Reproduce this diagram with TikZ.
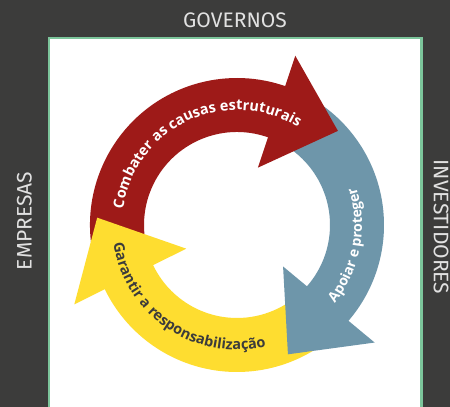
\documentclass[tikz,border=0pt]{standalone}
\usepackage{fontspec}
\setmainfont{Fira Sans}
\newfontfamily\cyclefont{Open Sans}
\usetikzlibrary{decorations.text}
\definecolor{bgdark}{RGB}{60,60,59}
\definecolor{framegreen}{RGB}{124,197,155}
\definecolor{cyclered}{RGB}{158,26,24}
\definecolor{cycleblue}{RGB}{110,150,170}
\definecolor{cycleyellow}{RGB}{254,221,48}
\definecolor{labelgray}{RGB}{225,225,225}

\begin{document}
\begin{tikzpicture}[x=1pt, y=1pt,
    sidelabel/.style={text=labelgray, font=\fontsize{21}{21}\selectfont, inner sep=0pt},
    cyclelabel/.style={decorate, decoration={text along path, text align=center, text={#1}}}]
    % background and frame
    \fill[bgdark] (0,0) rectangle (450,407);
    \useasboundingbox (0,0) rectangle (450,407);
    \draw[framegreen, line width=2.7pt, fill=white] (49,-10) rectangle (421.5,369);

    \node[sidelabel] (governos) at (235,387) {GOVERNOS};
    \node[sidelabel, rotate=90] (empresas) at (24.5,186) {EMPRESAS};
    \node[sidelabel, rotate=-90] (investidores) at (441,180) {INVESTIDORES};

    \begin{scope}[shift={(237,182)}]
        % bands
        \fill[cyclered] (195:147) arc[start angle=195, end angle=70, radius=147] -- (70:93) arc[start angle=70, end angle=195, radius=93] -- cycle;
        \fill[cycleblue] (62:147) arc[start angle=62, end angle=-42, radius=147] -- (-42:93) arc[start angle=-42, end angle=62, radius=93] -- cycle;
        \fill[cycleyellow] (310:147) arc[start angle=310, end angle=204.5, radius=147] -- (204.5:93) arc[start angle=204.5, end angle=310, radius=93] -- cycle;
        % heads
        \fill[cyclered] (71:179) -- (43:138) -- (70:61) -- cycle;
        \fill[cycleblue] (-40.5:181) -- (-68.5:139) -- (-42:62) -- cycle;
        \fill[cycleyellow] (206:181) -- (177:140) -- (205:56) -- cycle;
        % texts
        \path[cyclelabel={|\cyclefont\fontsize{14.5}{16}\selectfont\bfseries\color{white}|Combater as causas estruturais}]
            (175:115) arc[start angle=175, end angle=55, radius=115];
        \path[cyclelabel={|\cyclefont\fontsize{14}{16}\selectfont\bfseries\color{white}|Apoiar e proteger}]
            (-45:125) arc[start angle=-45, end angle=24, radius=125];
        \path[cyclelabel={|\cyclefont\fontsize{14.5}{16}\selectfont\bfseries\color{bgdark}|Garantir a responsabilização}]
            (180:125) arc[start angle=180, end angle=292, radius=125];
    \end{scope}
\end{tikzpicture}
\end{document}
